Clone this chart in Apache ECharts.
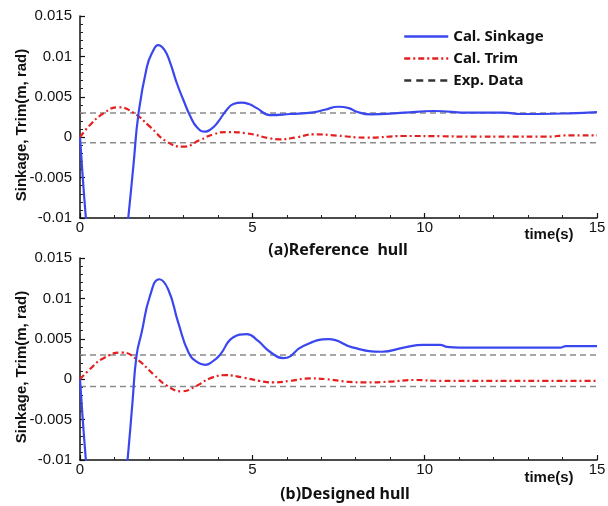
<!DOCTYPE html>
<html>
<head>
<meta charset="utf-8">
<script src="https://cdn.jsdelivr.net/npm/echarts@6/dist/echarts.min.js"></script>
<style>
html,body{margin:0;padding:0;background:#fff;}
#c{width:608px;height:506px;}
</style>
</head>
<body>
<div id="c"></div>
<script>
// ---- data ----
var xTicks = [0, 5, 10, 15];
var yTicks = [-0.01, -0.005, 0, 0.005, 0.01, 0.015];

// (a) Reference hull
var sinkA_t = [0, 0.08, 0.17, 0.3, 0.5, 0.75, 1.0, 1.2, 1.40, 1.55, 1.70, 1.94, 2.1, 2.27, 2.45, 2.61, 2.8, 3.0, 3.2, 3.4, 3.63, 3.8, 3.97, 4.26, 4.45, 4.69, 4.9, 5.13, 5.51, 6.1, 6.77, 7.1, 7.5, 7.8, 8.03, 8.42, 9.39, 10.26, 11.32, 12.29, 12.8, 14.2, 15];
var sinkA_v = [0, -0.005, -0.010, -0.017, -0.024, -0.027, -0.024, -0.018, -0.010, -0.0035, 0.003, 0.0087, 0.0105, 0.0114, 0.0108, 0.0093, 0.0068, 0.0046, 0.0026, 0.0012, 0.00068, 0.0010, 0.0017, 0.0034, 0.0041, 0.00427, 0.0041, 0.0036, 0.00274, 0.00287, 0.00307, 0.0034, 0.00377, 0.0036, 0.00315, 0.00283, 0.00303, 0.00324, 0.00303, 0.00303, 0.00287, 0.00295, 0.0031];
var trimA_t = [0, 0.29, 0.68, 1.11, 1.55, 2.03, 2.52, 3.0, 3.48, 3.87, 4.26, 4.84, 5.51, 5.8, 6.3, 6.77, 7.45, 8.32, 9.4, 10.5, 11.3, 12.5, 13.5, 14.2, 15];
var trimA_v = [0, 0.0015, 0.00295, 0.0037, 0.00303, 0.0013, -0.00055, -0.00117, -0.00035, 0.00036, 0.00064, 0.00048, -0.00014, -0.00026, 0.0000, 0.00036, 0.0002, -0.00006, 0.00015, 0.00012, 0.00006, 0.00006, 0.00006, 0.00023, 0.00023];
var expSinkA = 0.003;
var expTrimA = -0.0007;

// (b) Designed hull
var sinkB_t = [0, 0.08, 0.17, 0.3, 0.5, 0.75, 1.0, 1.2, 1.38, 1.52, 1.64, 1.79, 2.03, 2.3, 2.56, 2.85, 3.15, 3.4, 3.63, 3.85, 4.06, 4.45, 4.84, 5.15, 5.51, 5.9, 6.48, 7.21, 7.93, 8.76, 9.39, 9.96, 10.45, 10.64, 11.03, 13.93, 14.1, 15];
var sinkB_v = [0, -0.005, -0.010, -0.017, -0.024, -0.027, -0.024, -0.018, -0.010, -0.003, 0.0029, 0.0058, 0.0103, 0.01237, 0.0111, 0.0070, 0.0033, 0.0021, 0.00178, 0.0022, 0.0030, 0.0052, 0.00557, 0.0048, 0.0034, 0.0026, 0.0041, 0.00495, 0.0039, 0.0034, 0.0039, 0.00425, 0.00425, 0.0040, 0.0039, 0.0039, 0.0041, 0.0041];
var trimB_t = [0, 0.29, 0.68, 1.21, 1.64, 2.13, 2.52, 2.95, 3.39, 3.77, 4.22, 4.74, 5.2, 5.6, 6.1, 6.68, 7.16, 7.74, 8.32, 9.0, 9.68, 10.5, 12, 13.5, 15];
var trimB_v = [0, 0.00125, 0.0026, 0.0033, 0.0025, 0.0006, -0.0008, -0.0015, -0.0008, 0.0001, 0.0005, 0.0002, -0.0002, -0.0004, -0.0002, 0.0001, 0.0000, -0.0003, -0.0004, -0.0003, -0.0001, -0.0002, -0.0002, -0.0002, -0.0002];
var expSinkB = 0.003;
var expTrimB = -0.0009;

var seriesNames = ['Cal. Sinkage', 'Cal. Trim', 'Exp. Data'];
var captions = ['(a)Reference  hull', '(b)Designed hull'];
var xName = 'time(s)';
var yName = 'Sinkage, Trim(m, rad)';

// ---- helpers ----
function pairs(t, v) { return t.map(function (x, i) { return [x, v[i]]; }); }
function flat(val) { return [[xTicks[0], val], [xTicks[xTicks.length - 1], val]]; }

var BLUE = '#3b47ee', RED = '#e51f1f', GREY = '#8c8c8c';
var FONT = 'Liberation Sans';

function xAxisDef(gi) {
  return {
    type: 'value', gridIndex: gi, min: xTicks[0], max: xTicks[xTicks.length - 1], interval: 5,
    axisLine: { onZero: false, lineStyle: { color: '#111', width: 1.5 } },
    axisTick: { inside: true, length: 5, lineStyle: { color: '#111', width: 1.2 } },
    minorTick: { show: true, splitNumber: 5, length: 3, lineStyle: { color: '#222', width: 1 } },
    axisLabel: { color: '#111', fontSize: 15, fontFamily: FONT, margin: 2 },
    splitLine: { show: false }
  };
}
function yAxisDef(gi) {
  return {
    type: 'value', gridIndex: gi, min: yTicks[0], max: yTicks[yTicks.length - 1], interval: 0.005,
    name: yName, nameLocation: 'middle', nameGap: 51, nameRotate: 90, nameMoveOverlap: false,
    nameTextStyle: { color: '#111', fontSize: 15, fontWeight: 'bold', fontFamily: FONT, padding: [0, 16, 0, 0] },
    axisLine: { onZero: false, lineStyle: { color: '#111', width: 1.5 } },
    axisTick: { inside: true, length: 5, lineStyle: { color: '#111', width: 1.2 } },
    minorTick: { show: true, splitNumber: 5, length: 3, lineStyle: { color: '#222', width: 1 } },
    axisLabel: { color: '#111', fontSize: 15, fontFamily: FONT, margin: 8 },
    splitLine: { show: false }
  };
}
function lineSeries(name, gi, data, style) {
  return {
    name: name, type: 'line', xAxisIndex: gi, yAxisIndex: gi, data: data,
    symbol: 'none', showSymbol: false, smooth: 0.5, clip: true,
    lineStyle: style, itemStyle: { color: style.color }, animation: false, z: 3
  };
}

var sinkStyle = { color: BLUE, width: 2.2, type: 'solid' };
var trimStyle = { color: RED, width: 2.2, type: [6, 3, 2, 3] };
var expStyle = { color: GREY, width: 1.5, type: [6, 4] };

var series = [];
[[sinkA_t, sinkA_v, trimA_t, trimA_v, expSinkA, expTrimA],
 [sinkB_t, sinkB_v, trimB_t, trimB_v, expSinkB, expTrimB]].forEach(function (d, gi) {
  var e1 = lineSeries(seriesNames[2], gi, flat(d[4]), expStyle); e1.smooth = false; e1.z = 2;
  var e2 = lineSeries(seriesNames[2], gi, flat(d[5]), expStyle); e2.smooth = false; e2.z = 2;
  series.push(e1, e2);
  series.push(lineSeries(seriesNames[1], gi, pairs(d[2], d[3]), trimStyle));
  series.push(lineSeries(seriesNames[0], gi, pairs(d[0], d[1]), sinkStyle));
});

var chart = echarts.init(document.getElementById('c'), null, { renderer: 'canvas' });
chart.setOption({
  backgroundColor: '#ffffff',
  animation: false,
  grid: [
    { left: 80, top: 16, width: 517, height: 202, containLabel: false, outerBoundsMode: 'none' },
    { left: 80, top: 258, width: 517, height: 202, containLabel: false, outerBoundsMode: 'none' }
  ],
  xAxis: [xAxisDef(0), xAxisDef(1)],
  yAxis: [yAxisDef(0), yAxisDef(1)],
  legend: {
    orient: 'vertical', left: 403, top: 29, padding: 0, itemWidth: 44, itemHeight: 14, itemGap: 7,
    selectedMode: false,
    itemStyle: { color: 'rgba(0,0,0,0)', borderWidth: 0, opacity: 0 },
    textStyle: { color: '#111', fontSize: 15, fontWeight: 'bold', fontFamily: 'Noto Sans' },
    data: [
      { name: seriesNames[0], lineStyle: { width: 2.5 } },
      { name: seriesNames[1], lineStyle: { width: 2.5 } },
      { name: seriesNames[2], lineStyle: { color: '#333', width: 2.5, type: [7, 5] } }
    ]
  },
  graphic: [
    { type: 'text', x: 338, y: 250, style: { text: captions[0], textAlign: 'center', textVerticalAlign: 'middle', font: 'bold 16px "Noto Sans"', fill: '#111' } },
    { type: 'text', x: 345, y: 494, style: { text: captions[1], textAlign: 'center', textVerticalAlign: 'middle', font: 'bold 16px "Noto Sans"', fill: '#111' } },
    { type: 'text', x: 549, y: 235, style: { text: xName, textAlign: 'center', textVerticalAlign: 'middle', font: 'bold 15px "Liberation Sans"', fill: '#111' } },
    { type: 'text', x: 549, y: 478, style: { text: xName, textAlign: 'center', textVerticalAlign: 'middle', font: 'bold 15px "Liberation Sans"', fill: '#111' } }
  ],
  series: series
});
</script>
</body>
</html>
